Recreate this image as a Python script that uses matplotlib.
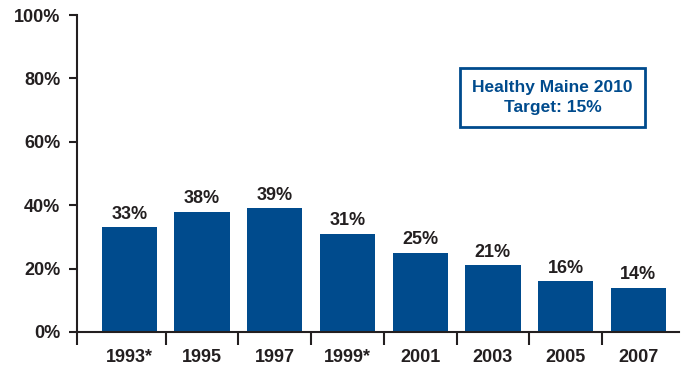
import matplotlib.pyplot as plt
from matplotlib.ticker import FixedLocator

years = ['1993*', '1995', '1997', '1999*', '2001', '2003', '2005', '2007']
pct = [33, 38, 39, 31, 25, 21, 16, 14]

blue = '#004b8d'
ink = '#231f20'
plt.rcParams['font.family'] = ['Liberation Sans', 'DejaVu Sans']
plt.rcParams['font.weight'] = 'bold'

fig = plt.figure(figsize=(6.83, 3.66), dpi=100)
ax = fig.add_axes([77 / 683, 1 - 332 / 366, 602 / 683, 317 / 366])

x = list(range(len(years)))
ax.bar(x, pct, width=0.76, color=blue)
for xi, v in zip(x, pct):
    ax.text(xi, v + 1.5, f'{v}%', ha='center', va='bottom',
            fontsize=13, fontweight='bold', color=ink)

ax.set_xlim(-0.72, 7.56)
ax.set_ylim(0, 100)
ax.set_yticks(range(0, 101, 20))
ax.set_yticklabels([f'{t}%' for t in range(0, 101, 20)],
                   fontsize=13, fontweight='bold', color=ink)

# category labels sit under the bars, tick marks fall between them
ax.set_xticks(x)
ax.set_xticklabels(years, fontsize=13, fontweight='bold', color=ink)
ax.tick_params(axis='x', which='major', length=0, pad=12)
ax.xaxis.set_minor_locator(FixedLocator([-0.72] + [i + 0.5 for i in range(7)]))
ax.tick_params(axis='x', which='minor', length=9, width=1.5, color=ink, direction='out')
ax.tick_params(axis='y', length=6, width=1.5, color=ink, pad=6)

for side in ('top', 'right'):
    ax.spines[side].set_visible(False)
for side in ('left', 'bottom'):
    ax.spines[side].set_linewidth(1.5)
    ax.spines[side].set_color(ink)

ax.text(0.79, 0.74, 'Healthy Maine 2010\nTarget: 15%', transform=ax.transAxes,
        ha='center', va='center', fontsize=12.5, fontweight='bold', color=blue,
        linespacing=1.35,
        bbox=dict(boxstyle='square,pad=0.72', facecolor='white',
                  edgecolor=blue, linewidth=2))

fig.savefig('out.png', dpi=100)
